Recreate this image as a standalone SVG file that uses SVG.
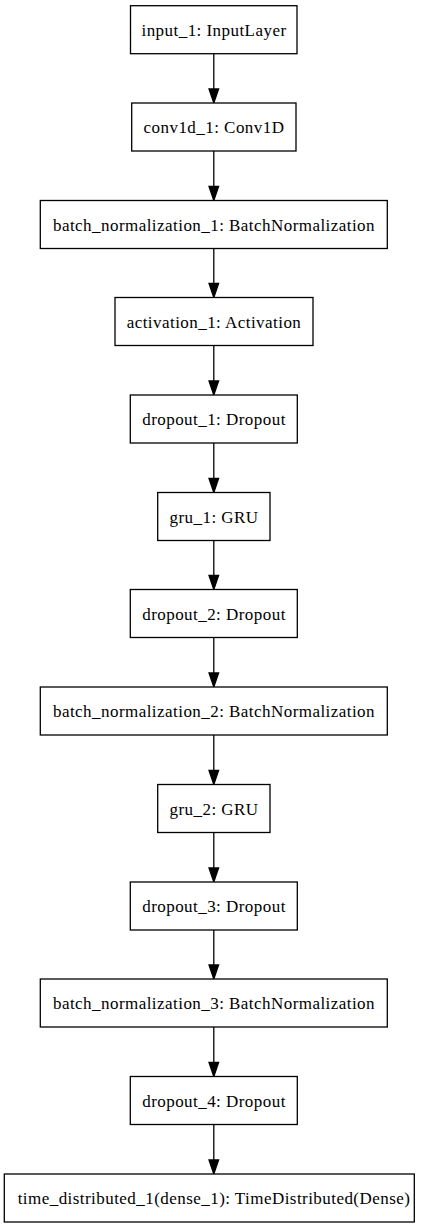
<svg xmlns="http://www.w3.org/2000/svg" width="428" height="1228" viewBox="0 0 428 1228">
<defs>
<style>
.n rect{fill:#fff;stroke:#000;stroke-width:1.3}
.n text{font-family:"Liberation Serif","Times New Roman",serif;font-size:17px;letter-spacing:0.45px;fill:#000;text-anchor:middle}
.e line{stroke:#000;stroke-width:1.3}
.e polygon{fill:#000;stroke:#000;stroke-width:1.3}
</style>
</defs>
<rect width="428" height="1228" fill="#fff"/>
<g id="connectors" class="e">
<line x1="213.8" y1="53.7" x2="213.8" y2="89"/><polygon points="209,89 218.6,89 213.8,103"/>
<line x1="213.8" y1="151" x2="213.8" y2="186.5"/><polygon points="209,186.5 218.6,186.5 213.8,200.5"/>
<line x1="213.8" y1="248.5" x2="213.8" y2="283.5"/><polygon points="209,283.5 218.6,283.5 213.8,297.5"/>
<line x1="213.8" y1="345.5" x2="213.8" y2="381"/><polygon points="209,381 218.6,381 213.8,395"/>
<line x1="213.8" y1="443" x2="213.8" y2="478.5"/><polygon points="209,478.5 218.6,478.5 213.8,492.5"/>
<line x1="213.8" y1="540.5" x2="213.8" y2="575.5"/><polygon points="209,575.5 218.6,575.5 213.8,589.5"/>
<line x1="213.8" y1="637.5" x2="213.8" y2="673"/><polygon points="209,673 218.6,673 213.8,687"/>
<line x1="213.8" y1="735" x2="213.8" y2="770.5"/><polygon points="209,770.5 218.6,770.5 213.8,784.5"/>
<line x1="213.8" y1="832.5" x2="213.8" y2="868"/><polygon points="209,868 218.6,868 213.8,882"/>
<line x1="213.8" y1="930" x2="213.8" y2="965"/><polygon points="209,965 218.6,965 213.8,979"/>
<line x1="213.8" y1="1027" x2="213.8" y2="1062.5"/><polygon points="209,1062.5 218.6,1062.5 213.8,1076.5"/>
<line x1="213.8" y1="1124.5" x2="213.8" y2="1160"/><polygon points="209,1160 218.6,1160 213.8,1174"/>
</g>
<g id="input_1" class="n"><rect x="130.5" y="5.7" width="166.5" height="48"/><text x="214" y="36">input_1: InputLayer</text></g>
<g id="conv1d_1" class="n"><rect x="131.7" y="103" width="164.3" height="48"/><text x="214" y="133.3">conv1d_1: Conv1D</text></g>
<g id="batch_normalization_1" class="n"><rect x="40.3" y="200.5" width="347" height="48"/><text x="214" y="230.8">batch_normalization_1: BatchNormalization</text></g>
<g id="activation_1" class="n"><rect x="115" y="297.5" width="198" height="48"/><text x="214" y="327.8">activation_1: Activation</text></g>
<g id="dropout_1" class="n"><rect x="130.3" y="395" width="167" height="48"/><text x="214" y="425.3">dropout_1: Dropout</text></g>
<g id="gru_1" class="n"><rect x="157.7" y="492.5" width="112.3" height="48"/><text x="214" y="522.8">gru_1: GRU</text></g>
<g id="dropout_2" class="n"><rect x="130.3" y="589.5" width="167" height="48"/><text x="214" y="619.8">dropout_2: Dropout</text></g>
<g id="batch_normalization_2" class="n"><rect x="40.3" y="687" width="347" height="48"/><text x="214" y="717.3">batch_normalization_2: BatchNormalization</text></g>
<g id="gru_2" class="n"><rect x="157.7" y="784.5" width="112.3" height="48"/><text x="214" y="814.8">gru_2: GRU</text></g>
<g id="dropout_3" class="n"><rect x="130.3" y="882" width="167" height="48"/><text x="214" y="912.3">dropout_3: Dropout</text></g>
<g id="batch_normalization_3" class="n"><rect x="40.3" y="979" width="347" height="48"/><text x="214" y="1009.3">batch_normalization_3: BatchNormalization</text></g>
<g id="dropout_4" class="n"><rect x="130.3" y="1076.5" width="167" height="48"/><text x="214" y="1106.8">dropout_4: Dropout</text></g>
<g id="time_distributed_1" class="n"><rect x="4.3" y="1174" width="410" height="48"/><text x="214" y="1204.3">time_distributed_1(dense_1): TimeDistributed(Dense)</text></g>
</svg>
